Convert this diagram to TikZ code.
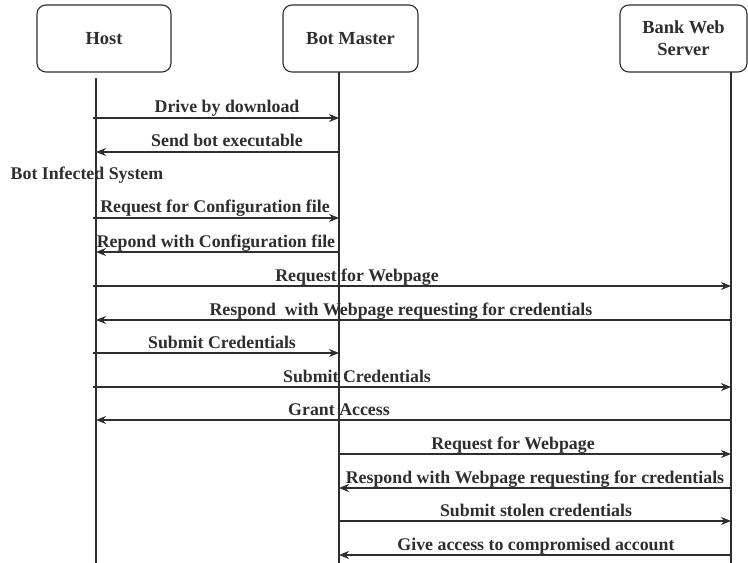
\documentclass[tikz,border=0pt]{standalone}
\usepackage{fontspec}
\setmainfont{Liberation Serif}
\usetikzlibrary{arrows.meta}
\definecolor{ink}{HTML}{2E2E2E}
\begin{document}
\begin{tikzpicture}[x=1bp,y=-1bp,
  actor/.style={draw=ink,line width=1.1bp,rounded corners=9bp,align=center,
    font=\fontsize{18.5}{22}\selectfont\bfseries,text=ink},
  lifeline/.style={draw=ink,line width=1.1bp},
  msg/.style={draw=ink,line width=1.1bp,-{Stealth[length=10bp,width=8bp]}},
  lbl/.style={font=\fontsize{17.9}{20}\selectfont\bfseries,text=ink,inner sep=0pt,anchor=base}]
\useasboundingbox (0,0) rectangle (748,563);

% participants
\draw[actor] (37,5) rectangle (171,72) node[actor,draw=none,midway] (host) {Host};
\draw[actor] (283,5) rectangle (418,72) node[actor,draw=none,midway] (bot) {Bot Master};
\draw[actor] (620,5) rectangle (747,72) node[actor,draw=none,midway] (bank) {Bank Web\\Server};

% lifelines
\coordinate (hT) at (96,78);   \coordinate (hB) at (96,563);
\coordinate (bT) at (339,72);  \coordinate (bB) at (339,563);
\coordinate (kT) at (731,72);  \coordinate (kB) at (731,563);
\draw[lifeline] (hT) -- (hB);
\draw[lifeline] (bT) -- (bB);
\draw[lifeline] (kT) -- (kB);

% message: from, to, y, label x, label
\newcommand\sendmsg[5]{%
  \draw[msg] (#1 |- 0,#3) -- (#2 |- 0,#3);
  \node[lbl] at (#4,#3-5) {#5};}

\coordinate (hS) at (93,0);

\sendmsg{hS}{bT}{118}{227}{Drive by download}
\sendmsg{bT}{hT}{152}{227}{Send bot executable}
\node[lbl] (infected) at (87,180) {Bot Infected System};
\sendmsg{hS}{bT}{218}{215}{Request for Configuration file}
\sendmsg{bT}{hT}{252}{216}{Repond with Configuration file}
\sendmsg{hS}{kT}{286}{357}{Request for Webpage}
\sendmsg{kT}{hT}{320}{401}{Respond\ \ with Webpage requesting for credentials}
\sendmsg{hS}{bT}{353}{222}{Submit Credentials}
\sendmsg{hS}{kT}{387}{357}{Submit Credentials}
\sendmsg{kT}{hT}{420}{339}{Grant Access}
\sendmsg{bT}{kT}{454}{513}{Request for Webpage}
\sendmsg{kT}{bT}{488}{535}{Respond with Webpage requesting for credentials}
\sendmsg{bT}{kT}{521}{536}{Submit stolen credentials}
\sendmsg{kT}{bT}{555}{536}{Give access to compromised account}
\end{tikzpicture}
\end{document}
